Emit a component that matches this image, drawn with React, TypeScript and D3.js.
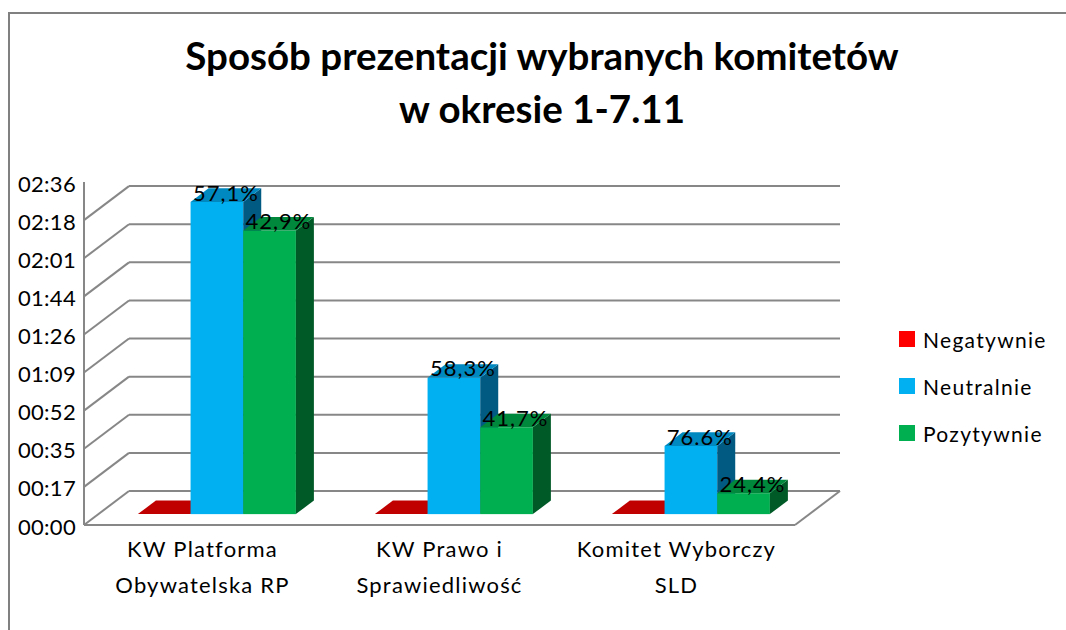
import React from "react";
import { scaleBand, scaleLinear, range } from "d3";

const title = ["Sposób prezentacji wybranych komitetów", "w okresie 1-7.11"];
const categories = [
  ["KW Platforma", "Obywatelska RP"],
  ["KW Prawo i", "Sprawiedliwość"],
  ["Komitet Wyborczy", "SLD"],
];
const seriesNames = ["Negatywnie", "Neutralnie", "Pozytywnie"];
// values in minutes
const negatywnie = [0, 0, 0];
const neutralnie = [142, 62, 31];
const pozytywnie = [129, 39.5, 9.5];
const neutralLabels = ["57,1%", "58,3%", "76.6%"];
const positiveLabels = ["42,9%", "41,7%", "24,4%"];
const tickLabels = ["00:00", "00:17", "00:35", "00:52", "01:09", "01:26", "01:44", "02:01", "02:18", "02:36"];
const axisMax = 156;

const colors = [
  { front: "#FF0000", top: "#C00000", side: "#900000" },
  { front: "#00B0F0", top: "#0089C0", side: "#005A82" },
  { front: "#00B050", top: "#00883C", side: "#005A28" },
];

const font = "Lato, 'Open Sans', sans-serif";

const W = 1066;
const H = 630;
// floor / walls
const x0 = 84;
const x1 = 795;
const yFloor = 525;
const depthX = 45;
const depthY = -34;
// bars sit between these depth fractions
const barD0 = 0.32;
const barD1 = 0.72;

const App = () => {
  const y = scaleLinear().domain([0, axisMax]).range([yFloor, 182]);
  const x = scaleBand<number>()
    .domain(range(categories.length))
    .range([x0, x1])
    .paddingInner(0)
    .paddingOuter(0);
  const bw = x.bandwidth() / 4.5;
  const tickValues = tickLabels.map((_, i) => (i * axisMax) / (tickLabels.length - 1));

  const series = [negatywnie, neutralnie, pozytywnie];

  const pt = (a: number, b: number) => `${a},${b}`;

  const bars: React.ReactNode[] = [];
  const labels: React.ReactNode[] = [];
  categories.forEach((_, ci) => {
    const start = x(ci)! + bw * 0.75;
    series.forEach((vals, si) => {
      const v = vals[ci];
      const fx = start + si * bw + depthX * barD0;
      const fyBottom = yFloor + depthY * barD0;
      const h = yFloor - y(v);
      const fyTop = fyBottom - h;
      const ddx = depthX * (barD1 - barD0);
      const ddy = depthY * (barD1 - barD0);
      const c = colors[si];
      bars.push(
        <g key={`${ci}-${si}`}>
          {h > 0 && (
            <rect x={fx} y={fyTop} width={bw} height={h} fill={c.front} />
          )}
          {h > 0 && (
            <polygon
              points={[
                pt(fx + bw, fyTop),
                pt(fx + bw + ddx, fyTop + ddy),
                pt(fx + bw + ddx, fyBottom + ddy),
                pt(fx + bw, fyBottom),
              ].join(" ")}
              fill={c.side}
            />
          )}
          <polygon
            points={[
              pt(fx, fyTop),
              pt(fx + ddx, fyTop + ddy),
              pt(fx + bw + ddx, fyTop + ddy),
              pt(fx + bw, fyTop),
            ].join(" ")}
            fill={c.top}
          />
        </g>
      );
      const text = si === 1 ? neutralLabels[ci] : si === 2 ? positiveLabels[ci] : null;
      if (text) {
        labels.push(
          <text
            key={`l${ci}-${si}`}
            x={fx + bw / 2 + ddx / 2}
            y={fyTop + ddy / 2 - 3}
            textAnchor="middle"
            dominantBaseline="central"
            fontSize={22}
            letterSpacing={1}
            fill="#000"
          >
            {text}
          </text>
        );
      }
    });
  });

  return (
    <svg
      width={W}
      height={H}
      style={{ position: "absolute", left: 0, top: 0, background: "#fff" }}
      fontFamily={font}
    >
      <rect x={9} y={13} width={1200} height={800} fill="#fff" stroke="#808080" strokeWidth={2} />

      <text textAnchor="middle" fontWeight="bold" fontSize={38.5} fill="#000">
        {title.map((t, i) => (
          <tspan key={i} x={542} y={55 + i * 53} dominantBaseline="central">
            {t}
          </tspan>
        ))}
      </text>

      {/* walls and grid */}
      <g stroke="#878787" strokeWidth={2} fill="none">
        <line x1={x0} x2={x0} y1={y(axisMax)} y2={yFloor} />
        {tickValues.slice(0, -1).map((t) => (
          <g key={t}>
            <line x1={x0} y1={y(t)} x2={x0 + depthX} y2={y(t) + depthY} />
            <line x1={x0 + depthX} y1={y(t) + depthY} x2={x1 + depthX} y2={y(t) + depthY} />
          </g>
        ))}
        <line x1={x0} x2={x1} y1={yFloor} y2={yFloor} />
        <line x1={x1} y1={yFloor} x2={x1 + depthX} y2={yFloor + depthY} />
      </g>

      {bars}
      {labels}

      {/* value axis labels */}
      {tickValues.map((t, i) => (
        <text
          key={t}
          x={76}
          y={y(t) + 1}
          textAnchor="end"
          dominantBaseline="central"
          fontSize={22}
          letterSpacing={0.3}
          fill="#000"
        >
          {tickLabels[i]}
        </text>
      ))}

      {/* category labels */}
      {categories.map((lines, ci) => (
        <text
          key={ci}
          textAnchor="middle"
          fontSize={22}
          letterSpacing={1.2}
          fill="#000"
        >
          {lines.map((l, li) => (
            <tspan key={li} x={x(ci)! + x.bandwidth() / 2} y={548 + li * 36} dominantBaseline="central">
              {l}
            </tspan>
          ))}
        </text>
      ))}

      {/* legend */}
      {seriesNames.map((s, i) => (
        <g key={s} transform={`translate(899, ${339 + i * 47})`}>
          <rect x={0} y={-8} width={16} height={16} fill={colors[i].front} />
          <text x={24} y={0} dominantBaseline="central" fontSize={21} letterSpacing={1.3} fill="#000">
            {s}
          </text>
        </g>
      ))}
    </svg>
  );
};

export default App;
